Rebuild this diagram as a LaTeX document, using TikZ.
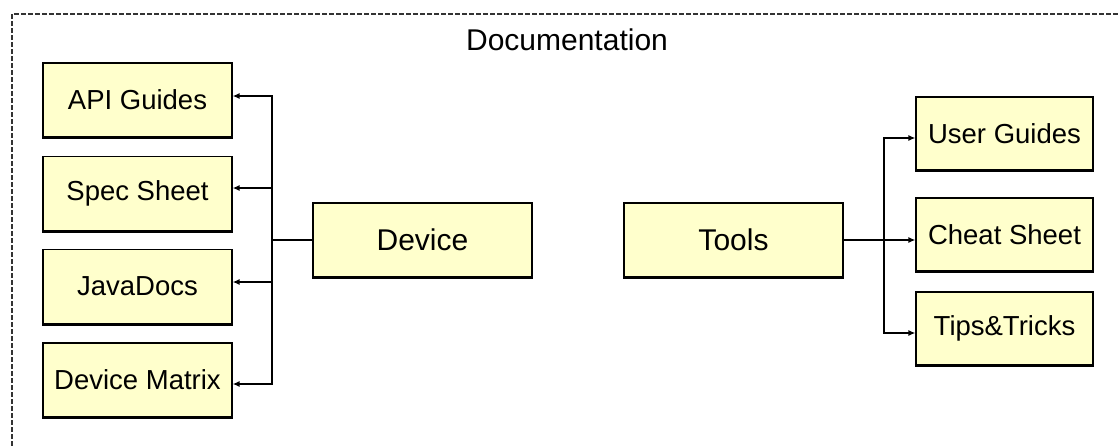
\documentclass[tikz,border=0pt]{standalone}
\usepackage{fontspec}
\setmainfont{Liberation Sans}
\usetikzlibrary{arrows.meta}
\definecolor{boxfill}{HTML}{FFFFCC}
\tikzset{
  docbox/.style={draw=black, line width=1.2pt, fill=boxfill, rectangle, inner sep=0pt,
    font=\fontsize{27.5}{33}\selectfont, minimum width=189pt, minimum height=74pt},
  bigbox/.style={docbox, font=\fontsize{30}{36}\selectfont, minimum width=219pt},
  rbox/.style={docbox, minimum width=177pt, minimum height=73pt},
  conn/.style={line width=1.5pt, draw=black},
  arr/.style={conn, -{Latex[length=7pt,width=6pt]}},
  frame/.style={draw=black!80, line width=1.2pt, dash pattern=on 5pt off 2pt}
}
\begin{document}
\begin{tikzpicture}[x=1pt,y=-1pt]
\useasboundingbox (0,0) rectangle (1120,445);
\begin{scope}
\clip (0,0) rectangle (1120,445);
\draw[frame] (12,460) -- (12,14) -- (1130,14);
\end{scope}
\node[font=\fontsize{30}{36}\selectfont] (title) at (567,40) {Documentation};

\node[docbox] (api) at (137.5,100) {API Guides};
\node[docbox] (spec) at (137.5,193.5) {Spec Sheet};
\node[docbox] (java) at (137.5,286.5) {JavaDocs};
\node[docbox] (matrix) at (137.5,380) {Device Matrix};
\node[bigbox] (dev) at (422.5,240) {Device};
\node[bigbox] (tools) at (733.5,240) {Tools};
\node[rbox] (user) at (1004.5,133.5) {User Guides};
\node[rbox] (cheat) at (1004.5,234.5) {Cheat Sheet};
\node[rbox] (tips) at (1004.5,328.5) {Tips\&Tricks};

\foreach \n in {api,spec,java,matrix,dev,tools,user,cheat,tips}
  \draw[line width=2.5pt] ([yshift=-0.5pt]\n.south west) -- ([yshift=-0.5pt]\n.south east);

\coordinate (lb) at (272,240);
\coordinate (rb) at (884,240);
\draw[conn] (dev.west) -- (lb);
\draw[arr] ([yshift=-0.75pt]lb) |- ([yshift=4pt]api.east);
\draw[arr] (lb) |- ([yshift=5.5pt]spec.east);
\draw[arr] (lb) |- ([yshift=4.5pt]java.east);
\draw[arr] ([yshift=0.75pt]lb) |- ([yshift=-4pt]matrix.east);
\draw[conn] (tools.east) -- (rb);
\draw[arr] ([yshift=-0.75pt]rb) |- ([yshift=-4.5pt]user.west);
\draw[arr] (rb) -- (cheat.west |- rb);
\draw[arr] ([yshift=0.75pt]rb) |- ([yshift=-4.5pt]tips.west);
\end{tikzpicture}
\end{document}
